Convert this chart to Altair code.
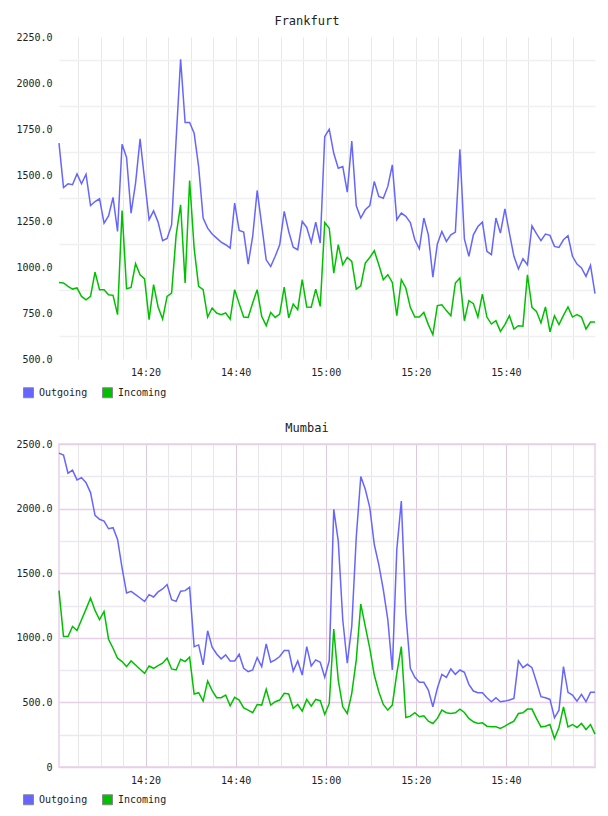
import altair as alt
import pandas as pd

times = pd.date_range("2024-01-01 14:00:47", periods=120, freq="min").strftime("%Y-%m-%dT%H:%M:%S").tolist()

series_names = ["Outgoing", "Incoming"]
series_colors = ["#6666ff", "#00c000"]

fra_out = [1673, 1432, 1452, 1447, 1506, 1452, 1504, 1334, 1356, 1371,
           1238, 1278, 1378, 1193, 1667, 1595, 1293, 1456, 1696, 1474,
           1257, 1305, 1244, 1143, 1155, 1229, 1690, 2129, 1785, 1785,
           1727, 1546, 1266, 1211, 1179, 1157, 1135, 1121, 1103, 1347,
           1199, 1190, 1016, 1166, 1416, 1229, 1039, 1003, 1058, 1121,
           1302, 1193, 1108, 1094, 1248, 1215, 1133, 1244, 1130, 1709,
           1749, 1618, 1537, 1546, 1407, 1685, 1333, 1266, 1311, 1334,
           1465, 1383, 1374, 1438, 1555, 1257, 1293, 1275, 1242, 1148,
           1099, 1266, 1175, 945, 1125, 1193, 1139, 1175, 1190, 1640,
           1153, 1058, 1175, 1220, 1244, 1085, 1067, 1266, 1184, 1316,
           1184, 1058, 989, 1045, 1012, 1224, 1181, 1143, 1179, 1172,
           1112, 1106, 1148, 1170, 1058, 1016, 995, 949, 1009, 855]

fra_in = [916, 913, 895, 880, 886, 840, 822, 840, 972, 877,
          877, 849, 846, 741, 1307, 882, 889, 1018, 958, 935,
          714, 904, 783, 717, 840, 858, 1172, 1338, 913, 1470,
          1103, 895, 877, 728, 777, 750, 741, 750, 717, 877,
          801, 728, 726, 804, 877, 732, 681, 753, 726, 744,
          891, 723, 799, 768, 931, 783, 781, 880, 786, 1242,
          1211, 967, 1121, 1012, 1052, 1030, 880, 898, 1021, 1052,
          1088, 1012, 931, 958, 916, 735, 931, 886, 781, 728,
          728, 753, 687, 632, 790, 795, 763, 735, 913, 940,
          708, 817, 801, 728, 853, 728, 690, 708, 650, 687,
          735, 663, 681, 678, 958, 781, 759, 696, 783, 647,
          735, 687, 737, 783, 728, 741, 728, 663, 701, 701]

mum_out = [2429, 2414, 2274, 2297, 2222, 2240, 2201, 2124, 1948, 1917,
           1904, 1844, 1852, 1761, 1541, 1347, 1360, 1334, 1308, 1282,
           1334, 1316, 1355, 1378, 1412, 1295, 1282, 1360, 1365, 1391,
           932, 945, 790, 1054, 927, 875, 837, 868, 821, 821,
           873, 764, 738, 751, 847, 777, 953, 811, 829, 855,
           901, 901, 743, 821, 712, 932, 782, 829, 811, 694,
           824, 1994, 1748, 1140, 803, 1090, 1780, 2248, 2150, 2007,
           1722, 1567, 1373, 1140, 751, 1684, 2059, 1191, 764, 694,
           655, 655, 596, 466, 609, 717, 694, 759, 717, 751,
           733, 640, 588, 575, 575, 536, 505, 536, 505, 510,
           518, 531, 821, 769, 795, 769, 660, 544, 536, 523,
           381, 440, 777, 578, 557, 510, 562, 505, 578, 578]

mum_in = [1365, 1010, 1010, 1088, 1057, 1140, 1222, 1308, 1212, 1140,
          1204, 989, 919, 842, 816, 777, 821, 790, 756, 725,
          782, 764, 785, 803, 842, 759, 751, 834, 816, 850,
          565, 575, 510, 666, 591, 536, 536, 557, 474, 539,
          518, 458, 440, 420, 484, 479, 601, 479, 505, 518,
          570, 565, 453, 484, 433, 523, 471, 523, 513, 407,
          492, 1067, 673, 466, 414, 570, 829, 1261, 1088, 919,
          712, 583, 484, 440, 479, 725, 932, 383, 394, 420,
          389, 396, 355, 337, 376, 440, 420, 414, 420, 448,
          422, 376, 350, 337, 342, 316, 311, 311, 298, 316,
          337, 355, 414, 420, 448, 448, 376, 311, 316, 329,
          220, 306, 466, 311, 329, 306, 337, 290, 329, 254]

FONT = "DejaVu Sans Mono"

x_tick_values = [alt.DateTime(year=2024, month=1, date=1, hours=14 + (5 * k) // 60, minutes=(5 * k) % 60)
                 for k in range(1, 24)]


def make_df(out_vals, in_vals):
    labels = [series_names[0]] * len(times) + [series_names[1]] * len(times)
    return pd.DataFrame({
        "time": times + times,
        "value": out_vals + in_vals,
        "series": labels,
        "key": labels,
    })


def panel(df, title, ydomain, yvalues, label_expr, ygrid_color, xgrid_color, h, view):
    x = alt.X("time:T", title=None,
              scale=alt.Scale(nice=False, padding=0),
              axis=alt.Axis(values=x_tick_values, domain=False, ticks=False,
                            labelExpr="minutes(datum.value) % 20 == 0 ? timeFormat(datum.value, '%H:%M') : ''",
                            labelFont=FONT, labelFontSize=10, labelColor="#222",
                            labelPadding=8, labelOverlap=False, labelFlush=False,
                            grid=True, gridColor=xgrid_color, gridWidth=1))
    y = alt.Y("value:Q", title=None,
              scale=alt.Scale(domain=ydomain, nice=False, zero=False),
              axis=alt.Axis(values=yvalues, domain=False, ticks=False,
                            labelExpr=label_expr,
                            labelFont=FONT, labelFontSize=10, labelColor="#222",
                            labelPadding=7, labelOverlap=False, labelFlush=False,
                            grid=True, gridColor=ygrid_color, gridWidth=1.5))
    base = alt.Chart(df)
    lines = base.mark_line(strokeWidth=1.5).encode(
        x=x, y=y,
        stroke=alt.Stroke("series:N", scale=alt.Scale(domain=series_names, range=series_colors),
                          legend=None),
    )
    keys = base.mark_square(size=0, stroke="#888888", strokeWidth=1, opacity=1).encode(
        x=x, y=y,
        fill=alt.Fill("key:N", scale=alt.Scale(domain=series_names, range=series_colors),
                      legend=alt.Legend(
                          title=None, orient="none", legendX=-36, legendY=350,
                          direction="horizontal", symbolType="square", symbolSize=100,
                          symbolStrokeColor="#888888", symbolStrokeWidth=1, symbolOpacity=1,
                          labelFont=FONT, labelFontSize=10, labelColor="#222", labelOffset=5,
                          columnPadding=12, padding=0)),
    )
    return alt.layer(lines, keys).resolve_scale(fill="independent", stroke="independent").properties(
        width=536, height=h, view=view,
        title=alt.TitleParams(title, font=FONT, fontSize=12, fontWeight="normal",
                              color="#222", anchor="middle", frame="bounds", offset=4),
    )


top = panel(
    make_df(fra_out, fra_in), "Frankfurt", [500, 2250],
    list(range(500, 2251, 125)),
    "datum.value % 250 == 0 ? format(datum.value, '.1f') : ''",
    {"condition": {"test": "datum.value % 250 == 0", "value": "transparent"}, "value": "#f0f0f0"},
    "#e8e8e8", 322,
    alt.ViewBackground(stroke="transparent"),
)

bottom = panel(
    make_df(mum_out, mum_in), "Mumbai", [0, 2500],
    list(range(0, 2501, 250)),
    "datum.value % 500 == 0 ? (datum.value == 0 ? '0' : format(datum.value, '.1f')) : ''",
    {"condition": {"test": "datum.value % 500 == 0", "value": "#e6d0e6"}, "value": "#ebe8ee"},
    {"condition": {"test": "minutes(datum.value) % 20 == 0", "value": "#dec8de"}, "value": "#e9e5eb"},
    323,
    alt.ViewBackground(stroke="#eedcee", strokeWidth=2),
)

chart = alt.vconcat(top, bottom, spacing=20).resolve_scale(
    fill="independent", stroke="independent"
).resolve_legend(fill="independent").properties(
    padding={"left": 14, "top": 14, "right": 5, "bottom": 5},
    background="white",
).configure_view(stroke=None)

chart.save("out.html", embed_options={"renderer": "svg", "actions": False})
